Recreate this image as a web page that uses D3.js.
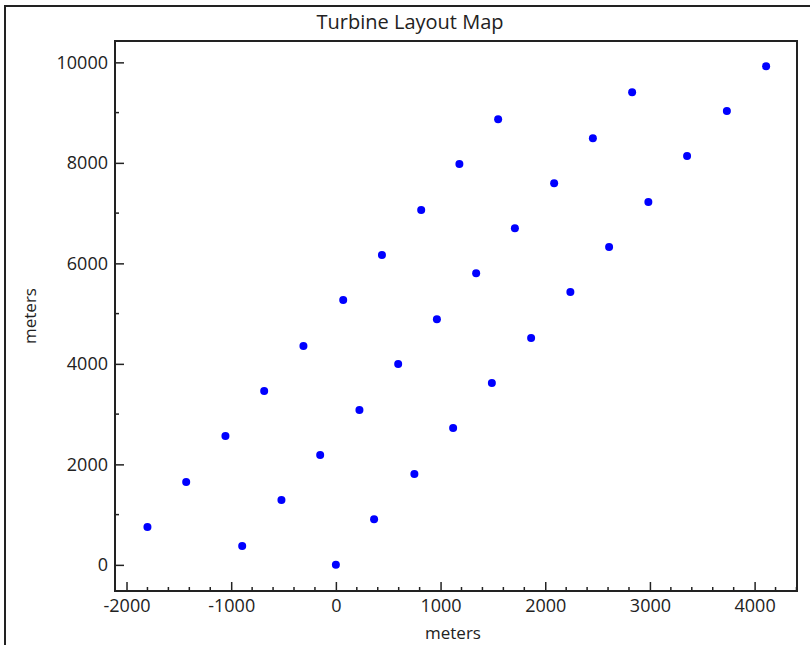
<!DOCTYPE html>
<html><head><meta charset="utf-8">
<script src="https://cdn.jsdelivr.net/npm/d3@7/dist/d3.min.js"></script>
<style>
body{margin:0;background:#fff;}
text{font-family:"Open Sans","Noto Sans",sans-serif;fill:#222;}
</style></head>
<body><svg id="c" width="810" height="645"></svg>
<script>
const title = "Turbine Layout Map";
const xLabel = "meters", yLabel = "meters";
const xTicks = [-2000,-1000,0,1000,2000,3000,4000];
const yTicks = [0,2000,4000,6000,8000,10000];
const turbineX = [-1800,-1430,-1055,-685,-310,70,440,815,1180,1550,
  -895,-520,-150,225,595,965,1340,1710,2085,2455,2830,
  0,365,750,1120,1490,1865,2240,2610,2985,3355,3735,4110];
const turbineY = [755,1650,2565,3460,4355,5270,6165,7060,7975,8870,
  375,1290,2185,3080,3995,4890,5805,6700,7595,8490,9405,
  0,910,1810,2725,3620,4515,5430,6325,7220,8135,9030,9925];

const svg = d3.select("#c");
const L=115, R=797, T=41, B=591;
const x = d3.scaleLinear().domain([-2110,4405]).range([L,R]);
const y = d3.scaleLinear().domain([-520,10425]).range([B,T]);
const fmt = d => String(d);

svg.append("path").attr("d","M5,645 L5,6 L810,6").attr("fill","none").attr("stroke","#222").attr("stroke-width",2);

svg.append("text").attr("x",410).attr("y",29).attr("text-anchor","middle").attr("font-size",20).text(title);

const xMinor = d3.range(-2000,4401,200).filter(v=>!xTicks.includes(v));
const yMinor = d3.range(0,10401,1000).filter(v=>!yTicks.includes(v));

const gx = svg.append("g").attr("transform",`translate(0,${B})`);
gx.call(d3.axisBottom(x).tickValues(xTicks).tickFormat(fmt).tickSize(-9).tickPadding(7).tickSizeOuter(0));
gx.select(".domain").remove();
gx.selectAll(".tick line").attr("stroke","#222").attr("stroke-width",1.5);
gx.selectAll("text").attr("font-size",18).attr("fill","#222").attr("dy","0.8em");
gx.selectAll(".minor").data(xMinor).enter().append("line").attr("x1",d=>x(d)).attr("x2",d=>x(d)).attr("y1",0).attr("y2",-4).attr("stroke","#222").attr("stroke-width",1.5);

const gy = svg.append("g").attr("transform",`translate(${L},0)`);
gy.call(d3.axisLeft(y).tickValues(yTicks).tickFormat(fmt).tickSize(-9).tickPadding(7).tickSizeOuter(0));
gy.select(".domain").remove();
gy.selectAll(".tick line").attr("stroke","#222").attr("stroke-width",1.5);
gy.selectAll("text").attr("font-size",18).attr("fill","#222");
gy.selectAll(".minor").data(yMinor).enter().append("line").attr("y1",d=>y(d)).attr("y2",d=>y(d)).attr("x1",0).attr("x2",4).attr("stroke","#222").attr("stroke-width",1.5);

svg.append("rect").attr("x",L).attr("y",T).attr("width",R-L).attr("height",B-T).attr("fill","none").attr("stroke","#222").attr("stroke-width",2);

svg.append("text").attr("x",(L+R)/2-3).attr("y",639).attr("text-anchor","middle").attr("font-size",17).text(xLabel);
svg.append("text").attr("transform",`translate(36,${(T+B)/2}) rotate(-90)`).attr("text-anchor","middle").attr("font-size",17).text(yLabel);

svg.append("g").selectAll("circle").data(turbineX).enter().append("circle")
  .attr("cx",d=>x(d)).attr("cy",(d,i)=>y(turbineY[i])).attr("r",4).attr("fill","#0000ff");
</script></body></html>
